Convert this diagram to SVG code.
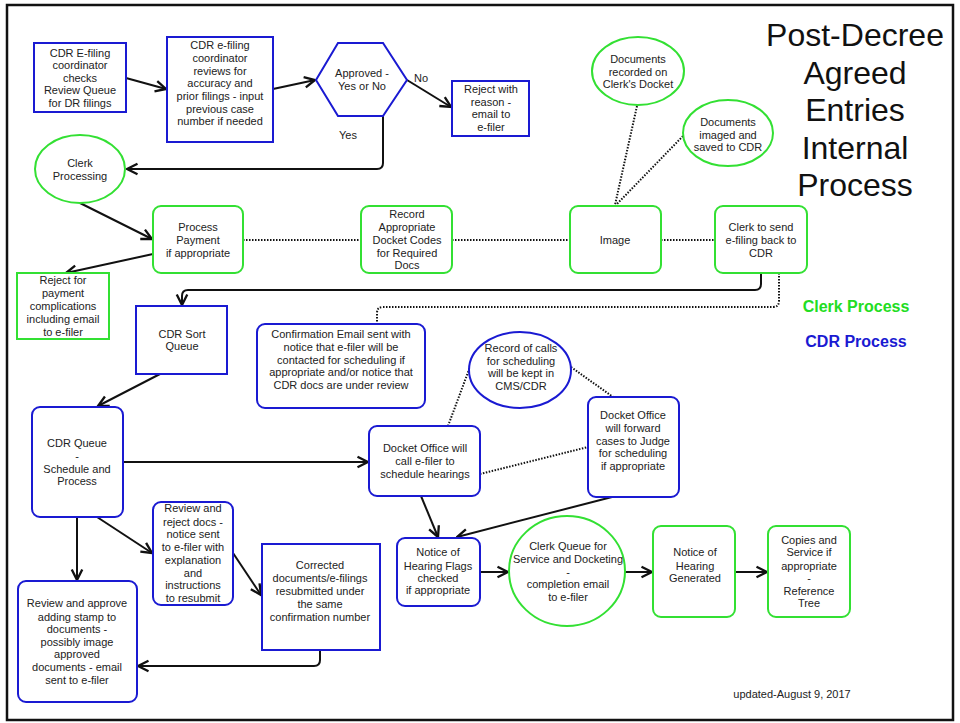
<svg xmlns="http://www.w3.org/2000/svg" width="960" height="723" viewBox="0 0 960 723">
<style>
.t{font-family:"Liberation Sans",Arial,sans-serif;font-size:11px;fill:#222;text-anchor:middle}
.b{fill:#fff;stroke:#1a1ad2;stroke-width:2}
.g{fill:#fff;stroke:#33e033;stroke-width:2}
.c{fill:none;stroke:#111;stroke-width:2}
.d{fill:none;stroke:#111;stroke-width:2;stroke-dasharray:1.5 1.5}
.title{font-family:"Liberation Sans",Arial,sans-serif;font-size:32px;fill:#111;text-anchor:middle}
</style>
<defs>
<marker id="ah" markerUnits="userSpaceOnUse" markerWidth="14" markerHeight="14" viewBox="0 0 12 12" refX="11" refY="6" orient="auto">
<path d="M2,1.5 L11,6 L2,10.5" fill="none" stroke="#111" stroke-width="2"/>
</marker>
</defs>
<rect x="0" y="0" width="960" height="723" fill="#fff"/>
<rect x="7" y="5" width="946" height="715" fill="#fff" stroke="#111" stroke-width="2.5"/>

<g id="title">
<text class="title" x="855" y="46">Post-Decree</text>
<text class="title" x="855" y="83.5">Agreed</text>
<text class="title" x="855" y="121">Entries</text>
<text class="title" x="855" y="158.5">Internal</text>
<text class="title" x="855" y="196">Process</text>
</g>
<g id="legend" font-family="Liberation Sans,Arial,sans-serif" font-size="16" font-weight="bold" text-anchor="middle">
<text x="856" y="312" fill="#22dd22">Clerk Process</text>
<text x="856" y="347" fill="#1a1ad2">CDR Process</text>
</g>
<text class="t" x="792" y="698" style="font-size:11px">updated-August 9, 2017</text>

<g id="connectors">
<line class="c" x1="126" y1="78" x2="166" y2="89" marker-end="url(#ah)"/>
<line class="c" x1="273" y1="89" x2="315" y2="80" marker-end="url(#ah)"/>
<line class="c" x1="407" y1="80" x2="451" y2="107" marker-end="url(#ah)"/>
<path class="c" d="M383,116 V163 Q383,169 377,169 H127" marker-end="url(#ah)"/>
<line class="c" x1="80" y1="203" x2="152" y2="239" marker-end="url(#ah)"/>
<line class="c" x1="153" y1="254" x2="66" y2="273" marker-end="url(#ah)"/>
<line class="d" x1="243" y1="240" x2="361" y2="240"/>
<line class="d" x1="452" y1="240" x2="570" y2="240"/>
<line class="d" x1="661" y1="240" x2="715" y2="240"/>
<line class="d" x1="637" y1="106" x2="615" y2="205"/>
<line class="d" x1="683" y1="136" x2="616" y2="205"/>
<path class="c" d="M761,273 V284 Q761,290 755,290 H188 Q182,290 182,296 V305" marker-end="url(#ah)"/>
<path class="d" d="M779,273 V301 Q779,307 773,307 H383 Q377,307 377,313 V324"/>
<line class="c" x1="160" y1="374" x2="98" y2="406" marker-end="url(#ah)"/>
<line class="c" x1="123" y1="462" x2="368" y2="462" marker-end="url(#ah)"/>
<line class="c" x1="97" y1="517" x2="152" y2="553" marker-end="url(#ah)"/>
<line class="c" x1="77" y1="517" x2="77" y2="580" marker-end="url(#ah)"/>
<line class="c" x1="233" y1="553" x2="261" y2="595" marker-end="url(#ah)"/>
<path class="c" d="M320,650 V660 Q320,666 314,666 H138" marker-end="url(#ah)"/>
<line class="d" x1="448" y1="426" x2="470" y2="367"/>
<line class="d" x1="571" y1="367" x2="613" y2="397"/>
<line class="d" x1="480" y1="474" x2="588" y2="447"/>
<line class="c" x1="421" y1="496" x2="438" y2="537" marker-end="url(#ah)"/>
<line class="c" x1="612" y1="497" x2="457" y2="537" marker-end="url(#ah)"/>
<line class="c" x1="480" y1="572" x2="508" y2="572" marker-end="url(#ah)"/>
<line class="c" x1="625" y1="572" x2="652" y2="572" marker-end="url(#ah)"/>
<line class="c" x1="735" y1="572" x2="767" y2="572" marker-end="url(#ah)"/>
<text class="t" x="421" y="82">No</text>
<text class="t" x="348" y="139">Yes</text>
</g>

<g id="n1"><rect class="b" x="34" y="43" width="92" height="69"/>
<text class="t" x="80" y="56.5">CDR E-filing</text><text class="t" x="80" y="69">coordinator</text><text class="t" x="80" y="81.5">checks</text><text class="t" x="80" y="94">Review Queue</text><text class="t" x="80" y="106.5">for DR filings</text></g>

<g id="n2"><rect class="b" x="167" y="37" width="106" height="105"/>
<text class="t" x="220" y="49">CDR e-filing</text><text class="t" x="220" y="61.7">coordinator</text><text class="t" x="220" y="74.5">reviews for</text><text class="t" x="220" y="87">accuracy and</text><text class="t" x="220" y="100">prior filings - input</text><text class="t" x="220" y="112.5">previous case</text><text class="t" x="220" y="125">number if needed</text></g>

<g id="n3"><polygon class="b" points="316,80 338,43 383,43 407,80 383,116 338,116"/>
<text class="t" x="362" y="76.5">Approved -</text><text class="t" x="362" y="89.5">Yes or No</text></g>

<g id="n4"><rect class="b" x="452" y="81" width="77" height="55"/>
<text class="t" x="491" y="93">Reject with</text><text class="t" x="491" y="105.5">reason -</text><text class="t" x="491" y="118">email to</text><text class="t" x="491" y="131">e-filer</text></g>

<g id="n5"><ellipse class="g" cx="80" cy="169" rx="45" ry="34"/>
<text class="t" x="80" y="167">Clerk</text><text class="t" x="80" y="179.5">Processing</text></g>

<g id="n6"><rect class="g" x="153" y="206" width="90" height="67" rx="8"/>
<text class="t" x="198" y="231">Process</text><text class="t" x="198" y="244">Payment</text><text class="t" x="198" y="256.5">if appropriate</text></g>

<g id="n7"><rect class="g" x="17" y="273" width="92" height="66"/>
<text class="t" x="63" y="284">Reject for</text><text class="t" x="63" y="297">payment</text><text class="t" x="63" y="310">complications</text><text class="t" x="63" y="322.5">including email</text><text class="t" x="63" y="335.5">to e-filer</text></g>

<g id="n8"><rect class="g" x="361" y="206" width="91" height="67" rx="8"/>
<text class="t" x="407" y="218">Record</text><text class="t" x="407" y="231">Appropriate</text><text class="t" x="407" y="244">Docket Codes</text><text class="t" x="407" y="256.5">for Required</text><text class="t" x="407" y="269">Docs</text></g>

<g id="n9"><rect class="g" x="570" y="206" width="91" height="67" rx="8"/>
<text class="t" x="615" y="243.5">Image</text></g>

<g id="n10"><rect class="g" x="715" y="206" width="92" height="67" rx="8"/>
<text class="t" x="761" y="231">Clerk to send</text><text class="t" x="761" y="244">e-filing back to</text><text class="t" x="761" y="256.5">CDR</text></g>

<g id="n11"><ellipse class="g" cx="638" cy="71" rx="46" ry="34"/>
<text class="t" x="638" y="63">Documents</text><text class="t" x="638" y="75.5">recorded on</text><text class="t" x="638" y="87.5">Clerk's Docket</text></g>

<g id="n12"><ellipse class="g" cx="728" cy="133" rx="45" ry="33"/>
<text class="t" x="728" y="125.5">Documents</text><text class="t" x="728" y="139">imaged and</text><text class="t" x="728" y="151">saved to CDR</text></g>

<g id="n13"><rect class="b" x="136" y="306" width="91" height="68"/>
<text class="t" x="182" y="338">CDR Sort</text><text class="t" x="182" y="350">Queue</text></g>

<g id="n14"><rect class="b" x="257" y="324" width="168" height="84" rx="8"/>
<text class="t" x="341" y="338">Confirmation Email sent with</text><text class="t" x="341" y="351">notice that e-filer will be</text><text class="t" x="341" y="364">contacted for scheduling if</text><text class="t" x="341" y="376">appropriate and/or notice that</text><text class="t" x="341" y="389">CDR docs are under review</text></g>

<g id="n15"><ellipse class="b" cx="520" cy="370" rx="51" ry="38"/>
<text class="t" x="521" y="351.5">Record of calls</text><text class="t" x="521" y="365">for scheduling</text><text class="t" x="521" y="377">will be kept in</text><text class="t" x="521" y="390">CMS/CDR</text></g>

<g id="n16"><rect class="b" x="369" y="426" width="111" height="70" rx="8"/>
<text class="t" x="425" y="452">Docket Office will</text><text class="t" x="425" y="465">call e-filer to</text><text class="t" x="425" y="477.5">schedule hearings</text></g>

<g id="n17"><rect class="b" x="588" y="397" width="91" height="100" rx="8"/>
<text class="t" x="633" y="419">Docket Office</text><text class="t" x="633" y="431.5">will forward</text><text class="t" x="633" y="445">cases to Judge</text><text class="t" x="633" y="457">for scheduling</text><text class="t" x="633" y="470">if appropriate</text></g>

<g id="n18"><rect class="b" x="32" y="407" width="91" height="110" rx="8"/>
<text class="t" x="77" y="447">CDR Queue</text><text class="t" x="77" y="460">-</text><text class="t" x="77" y="473">Schedule and</text><text class="t" x="77" y="485">Process</text></g>

<g id="n19"><rect class="b" x="153" y="502" width="80" height="103" rx="8"/>
<text class="t" x="193" y="512">Review and</text><text class="t" x="193" y="525.5">reject docs -</text><text class="t" x="193" y="538">notice sent</text><text class="t" x="193" y="551">to e-filer with</text><text class="t" x="193" y="564">explanation</text><text class="t" x="193" y="576.5">and</text><text class="t" x="193" y="589">instructions</text><text class="t" x="193" y="602">to resubmit</text></g>

<g id="n20"><rect class="b" x="18" y="581" width="119" height="121" rx="8"/>
<text class="t" x="77" y="607">Review and approve</text><text class="t" x="77" y="620.5">adding stamp to</text><text class="t" x="77" y="633">documents -</text><text class="t" x="77" y="645.5">possibly image</text><text class="t" x="77" y="658">approved</text><text class="t" x="77" y="671">documents - email</text><text class="t" x="77" y="684">sent to e-filer</text></g>

<g id="n21"><rect class="b" x="262" y="544" width="118" height="106"/>
<text class="t" x="320" y="569">Corrected</text><text class="t" x="320" y="582">documents/e-filings</text><text class="t" x="320" y="595">resubmitted under</text><text class="t" x="320" y="607.5">the same</text><text class="t" x="320" y="620.5">confirmation number</text></g>

<g id="n22"><rect class="b" x="397" y="538" width="83" height="68" rx="8"/>
<text class="t" x="438" y="556">Notice of</text><text class="t" x="438" y="569.5">Hearing Flags</text><text class="t" x="438" y="581.5">checked</text><text class="t" x="438" y="594">if appropriate</text></g>

<g id="n23"><ellipse class="g" cx="567" cy="571" rx="58" ry="55"/>
<text class="t" x="568" y="550">Clerk Queue for</text><text class="t" x="568" y="563">Service and Docketing</text><text class="t" x="568" y="575.5">-</text><text class="t" x="568" y="588">completion email</text><text class="t" x="568" y="600.5">to e-filer</text></g>

<g id="n24"><rect class="g" x="653" y="526" width="82" height="91" rx="8"/>
<text class="t" x="695" y="556">Notice of</text><text class="t" x="695" y="569.5">Hearing</text><text class="t" x="695" y="581.5">Generated</text></g>

<g id="n25"><rect class="g" x="768" y="526" width="82" height="91" rx="8"/>
<text class="t" x="809" y="544">Copies and</text><text class="t" x="809" y="556">Service if</text><text class="t" x="809" y="569.5">appropriate</text><text class="t" x="809" y="582">-</text><text class="t" x="809" y="594.5">Reference</text><text class="t" x="809" y="607">Tree</text></g>
</svg>
